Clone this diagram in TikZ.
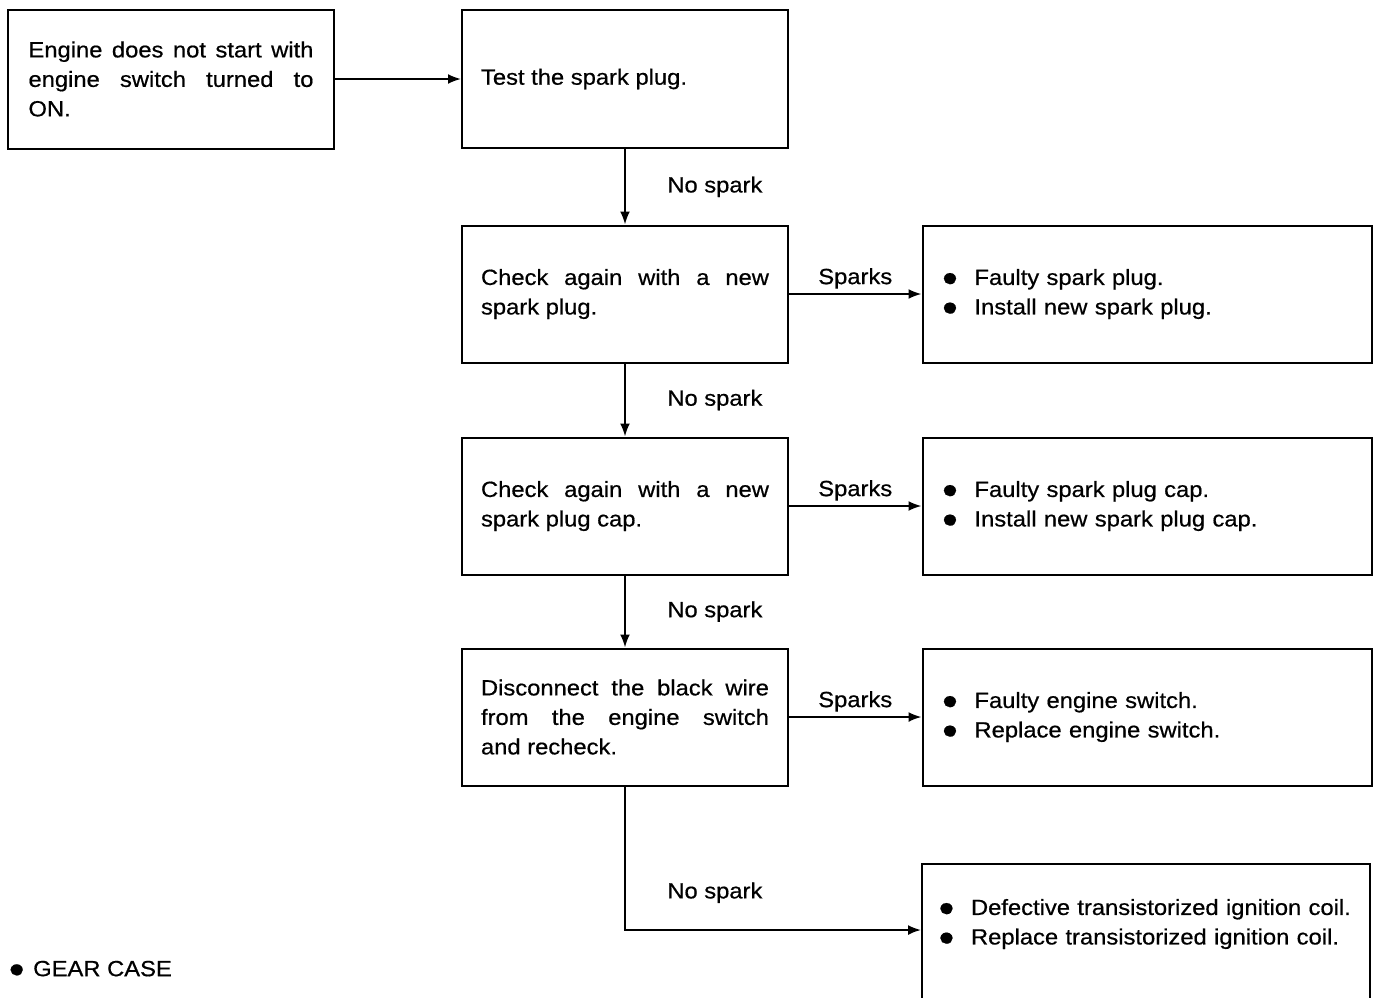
\documentclass[tikz,border=0pt]{standalone}
\usepackage{fontspec}
\setmainfont{Liberation Sans}[FakeStretch=1.08, FakeBold=0.6]
\usetikzlibrary{arrows.meta}
\newcommand{\blt}{\makebox[33pt][l]{\raisebox{-1pt}{\fontsize{26}{0}\selectfont ●}}}

\begin{document}
\begin{tikzpicture}[x=1pt, y=-1pt,
        >={Latex[length=13pt,width=10pt]},   % Pfeilspitzen
        font=\fontsize{22}{29.5}\selectfont,
        stepbox/.style={draw, line width=2pt, text width=288pt, inner xsep=19pt, minimum height=137pt, align=justify},
        faultbox/.style={draw, line width=2pt, text width=411pt, inner xsep=19pt, minimum height=137pt, align=left},
        link/.style={->, line width=2pt}]
    % Bildbereich
    \useasboundingbox (0,0) rectangle (1378,997);
    \clip (0,0) rectangle (1378,997);
    % Pruefschritte links
    \node[stepbox, text width=285pt, inner xsep=20.5pt, minimum height=139pt] (start) at (171,79) {Engine does not start with\linebreak engine switch turned to\linebreak ON.};
    \node[stepbox, minimum height=138pt] (test) at (625,79) {Test the spark plug.};
    \node[stepbox] (plug) at (625,294) {Check again with a new\linebreak spark plug.};
    \node[stepbox] (cap) at (625,506) {Check again with a new\linebreak spark plug cap.};
    \node[stepbox] (wire) at (625,717) {Disconnect the black wire\linebreak from the engine switch\linebreak and recheck.};
    % Befunde rechts
    \node[faultbox] (badplug) at (1147,294) {\blt Faulty spark plug.\\\blt Install new spark plug.};
    \node[faultbox] (badcap) at (1147,506) {\blt Faulty spark plug cap.\\\blt Install new spark plug cap.};
    \node[faultbox] (badswitch) at (1147,717) {\blt Faulty engine switch.\\\blt Replace engine switch.};
    \node[faultbox, anchor=north, text width=416pt, inner xsep=16pt, inner ysep=35pt, text depth=90pt] (badcoil) at (1146,863) {\mbox{\blt Defective transistorized ignition coil.}\\\mbox{\blt Replace transistorized ignition coil.}};
    % Pfeile
    \draw[link] (start) -- (test);
    \draw[link] (test) -- node[right=38pt] {No spark} (plug);
    \draw[link] (plug) -- node[right=38pt] {No spark} (cap);
    \draw[link] (cap) -- node[right=38pt] {No spark} (wire);
    \draw[link] (plug) -- node[above=1pt] {Sparks} (badplug);
    \draw[link] (cap) -- node[above=1pt] {Sparks} (badcap);
    \draw[link] (wire) -- node[above=1pt] {Sparks} (badswitch);
    \draw[link] (wire.south) |- node[pos=0.37, right=38pt] {No spark} ([yshift=-67pt]badcoil.north west);
    % Ueberschrift unten
    \node[anchor=west, inner sep=0pt] (gear) at (8,969) {\makebox[25pt][l]{\raisebox{-1pt}{\fontsize{26}{0}\selectfont ●}}GEAR CASE};
\end{tikzpicture}
\end{document}
